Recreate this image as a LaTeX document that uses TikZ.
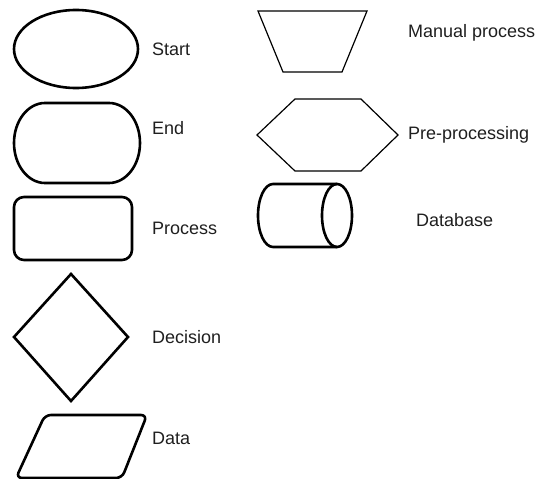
\documentclass[tikz,border=0pt]{standalone}
\usepackage{fontspec}
\setmainfont{Liberation Sans}
\begin{document}
\begin{tikzpicture}[x=1pt,y=-1pt,
  heavy/.style={draw=black,line width=2.6pt,line join=round},
  light/.style={draw=black,line width=1.2pt,line join=miter},
  lbl/.style={anchor=west,inner sep=0pt,font=\fontsize{18}{21}\selectfont,text=black!88}]
\useasboundingbox (0,0) rectangle (539,479);

% left column: terminals, process, decision, data
\draw[heavy] (76,49) ellipse [x radius=62, y radius=39];
\node[lbl] (startlbl) at (152,49) {Start};

% stadium with elliptic ends
\draw[heavy] (45,103) -- (109,103)
  arc[start angle=-90, end angle=90, x radius=31, y radius=40]
  -- (45,183)
  arc[start angle=90, end angle=270, x radius=31, y radius=40] -- cycle;
\node[lbl] (endlbl) at (152,128) {End};

\draw[heavy,rounded corners=10] (14,197) rectangle (132,260);
\node[lbl] (proclbl) at (152,228) {Process};

\draw[heavy,line join=miter] (14,337) -- (71,274) -- (128,337) -- (71,401) -- cycle;
\node[lbl] (declbl) at (152,337) {Decision};

\draw[heavy,rounded corners=6] (45,415) -- (147,415) -- (122,478) -- (16,478) -- cycle;
\node[lbl] (datalbl) at (152,438) {Data};

% right column: manual process, preparation, stored data
\draw[light] (258,11) -- (367,11) -- (342,72) -- (283,72) -- cycle;
\node[lbl] (manlbl) at (408,33) {Manual process};

\draw[light] (257,135) -- (295,99) -- (361,99) -- (398,135) -- (361,171) -- (295,171) -- cycle;
\node[lbl] (prelbl) at (408,135) {Pre-processing};

% horizontal cylinder
\draw[heavy] (337,184) -- (273,184)
  arc[start angle=-90, end angle=-270, x radius=15, y radius=31.5]
  -- (337,247);
\draw[heavy] (337,215.5) ellipse [x radius=15, y radius=31.5];
\node[lbl] (dblbl) at (416,220) {Database};
\end{tikzpicture}
\end{document}
